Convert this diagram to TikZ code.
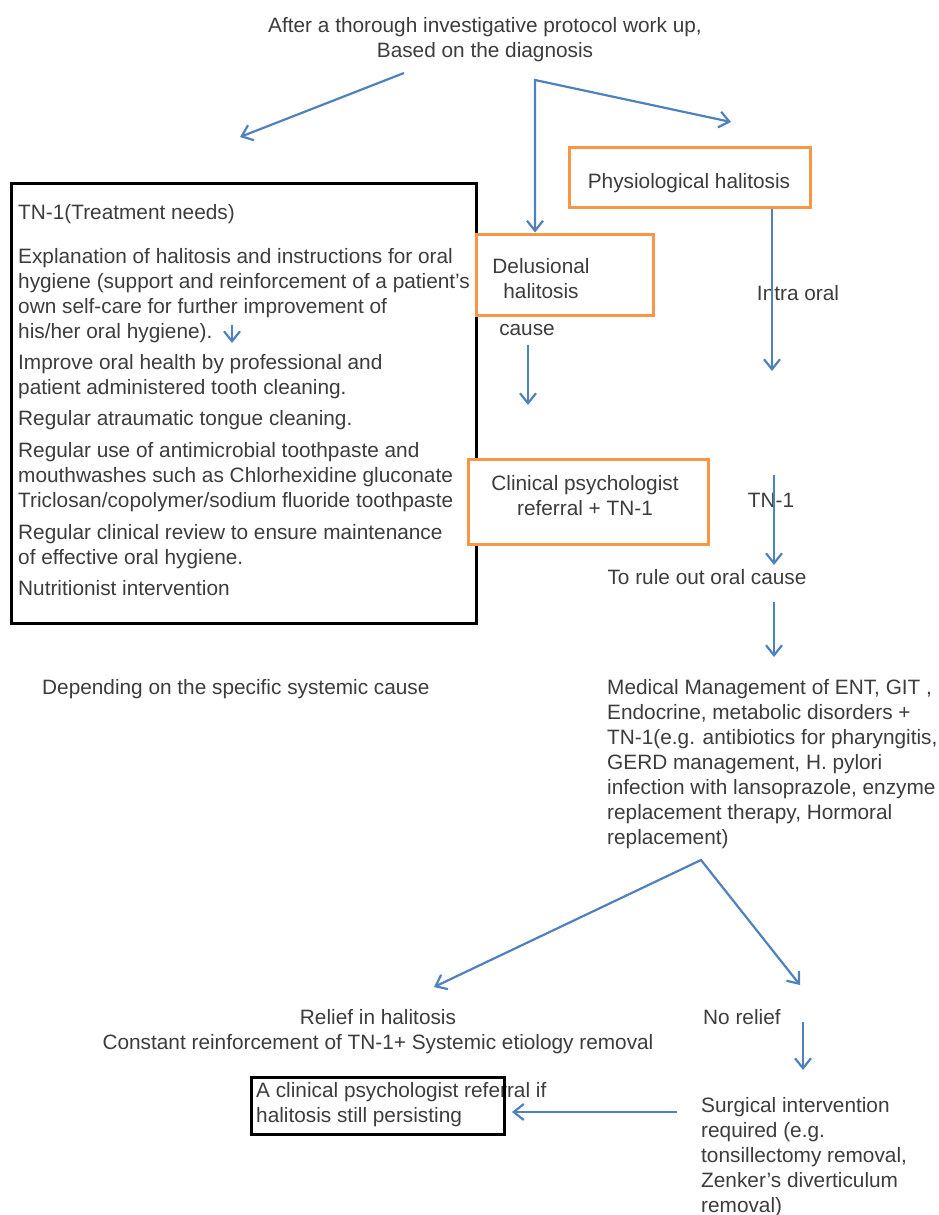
\documentclass[tikz,border=0pt]{standalone}
\usepackage{fontspec}
\setmainfont{Liberation Sans}
\usetikzlibrary{arrows.meta}

\definecolor{flowblue}{HTML}{4F81BD}
\definecolor{boxorange}{HTML}{F79646}
\definecolor{txtgrey}{HTML}{3C3C3C}

\tikzset{
  >={Straight Barb[length=10pt,width=16pt]},
  arr/.style={flowblue, line width=2.2pt, ->},
  obox/.style={draw=boxorange, line width=3pt, fill=white, inner sep=0pt},
  kbox/.style={draw=black, line width=3pt, inner sep=0pt},
  txt/.style={text=txtgrey, inner sep=0pt, font=\fontsize{20.8}{25}\selectfont},
}

\begin{document}
\begin{tikzpicture}[x=1pt,y=-1pt]
    \useasboundingbox (0,0) rectangle (939,1215);

    % diagnosis
    \node[txt, align=center, anchor=north] (title) at (485,17)
        {After a thorough investigative protocol work up,\\Based on the diagnosis};

    % treatment needs
    \node[kbox, minimum width=465, minimum height=440, anchor=north west] (tn) at (10,182) {};
    \node[txt, align=left, anchor=north west] (tntext) at (18,204)
        {TN-1(Treatment needs)\\[19pt]
         Explanation of halitosis and instructions for oral\\
         hygiene (support and reinforcement of a patient’s\\
         own self-care for further improvement of\\
         his/her oral hygiene).\\[6pt]
         Improve oral health by professional and\\
         patient administered tooth cleaning.\\[6pt]
         Regular atraumatic tongue cleaning.\\[7pt]
         Regular use of antimicrobial toothpaste and\\
         mouthwashes such as Chlorhexidine gluconate\\
         Triclosan/copolymer/sodium fluoride toothpaste\\[7pt]
         Regular clinical review to ensure maintenance\\
         of effective oral hygiene.\\[6pt]
         Nutritionist intervention};

    % orange boxes
    \node[obox, minimum width=241, minimum height=60] (physio) at (689.5,177) {};
    \node[txt, anchor=base] (physiotext) at (689,188) {Physiological halitosis};
    \node[obox, minimum width=177, minimum height=81] (delu) at (564.5,274.5) {};
    \node[txt, align=center, anchor=north] (delutext) at (541,258) {Delusional\\halitosis};
    \node[obox, minimum width=240, minimum height=85] (clin) at (588,501.5) {};
    \node[txt, align=center, anchor=north] (clintext) at (585,475)
        {Clinical psychologist\\referral + TN-1};

    % labels
    \node[txt, anchor=base] (cause) at (527,335) {cause};
    \node[txt, anchor=base] (intra) at (798,300) {Intra oral};
    \node[txt, anchor=base] (tnone) at (771,507) {TN-1};
    \node[txt, anchor=base] (ruleout) at (707,584) {To rule out oral cause};
    \node[txt, anchor=base west] (depend) at (42,694) {Depending on the specific systemic cause};
    \node[txt, align=left, anchor=north west] (medical) at (607,679)
        {Medical Management of ENT, GIT ,\\
         Endocrine, metabolic disorders +\\
         TN-1(e.g. antibiotics for pharyngitis,\\
         GERD management, H. pylori\\
         infection with lansoprazole, enzyme\\
         replacement therapy, Hormoral\\
         replacement)};

    % outcome
    \node[txt, align=center, anchor=north] (relief) at (378,1009)
        {Relief in halitosis\\Constant reinforcement of TN-1+ Systemic etiology removal};
    \node[txt, anchor=base west] (norelief) at (703,1024) {No relief};
    \node[txt, align=left, anchor=north west] (surgical) at (701,1097)
        {Surgical intervention\\
         required (e.g.\\
         tonsillectomy removal,\\
         Zenker’s diverticulum\\
         removal)};
    \node[txt, align=left, anchor=north west] (persisttext) at (256,1082)
        {A clinical psychologist referral if\\halitosis still persisting};
    \node[kbox, minimum width=253, minimum height=57, anchor=north west] (persist) at (250,1076) {};

    % arrows
    \coordinate (ltop) at (404,73);
    \coordinate (ltip) at (240,137);
    \coordinate (fork) at (535,80);
    \coordinate (rtip) at (731,122);
    \draw[arr] (ltop) -- (ltip);
    \draw[arr, <->] (fork |- delu.north) -- (fork) -- (rtip);

    \coordinate (s1) at (232,325);
    \coordinate (s2) at (232,343);
    \draw[arr] (s1) -- (s2);

    \coordinate (c1) at (528,345);
    \coordinate (c2) at (528,405);
    \draw[arr] (c1) -- (c2);

    \coordinate (iend) at (772,371);
    \draw[arr] (physio.south -| iend) -- (iend);

    \coordinate (t1) at (774,475);
    \coordinate (t2) at (774,565);
    \draw[arr] (t1) -- (t2);

    \coordinate (r1) at (774,602);
    \coordinate (r2) at (774,657);
    \draw[arr] (r1) -- (r2);

    \coordinate (split) at (701,860);
    \coordinate (lefttip) at (434,987);
    \coordinate (righttip) at (800,985);
    \draw[arr, <->] (lefttip) -- (split) -- (righttip);

    \coordinate (n1) at (803,1022);
    \coordinate (n2) at (803,1070);
    \draw[arr] (n1) -- (n2);

    \coordinate (sg) at (677,1112);
    \coordinate (pe) at (512,1112);
    \draw[arr] (sg) -- (pe);
\end{tikzpicture}
\end{document}
